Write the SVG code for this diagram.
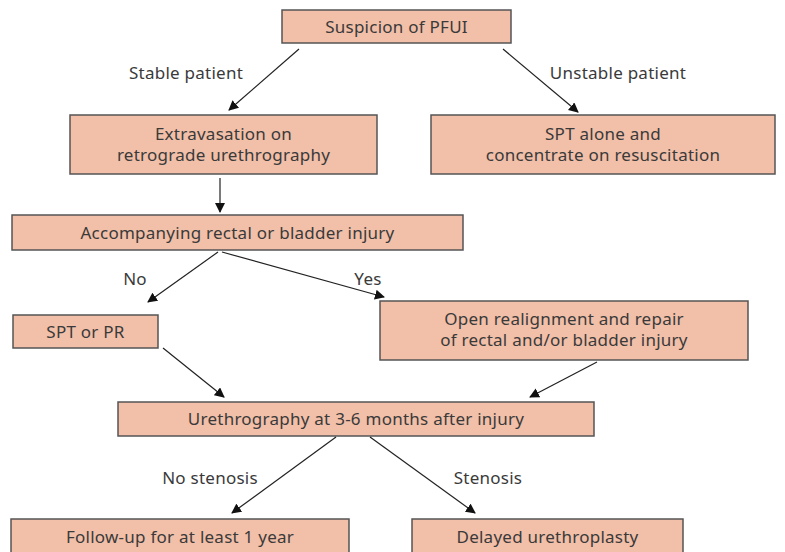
<svg xmlns="http://www.w3.org/2000/svg" width="785" height="552" viewBox="0 0 785 552">
<style>
.box{fill:#F2BFA8;stroke:#555;stroke-width:1.5}
.t{font-family:"Noto Sans","Open Sans",sans-serif;font-size:17px;letter-spacing:0.25px;fill:#3a3a3a;text-anchor:middle}
.e{stroke:#222;stroke-width:1.2;fill:none;marker-end:url(#ah)}
</style>
<defs>
<marker id="ah" viewBox="0 0 10 10" refX="9" refY="5" markerWidth="10" markerHeight="10" markerUnits="userSpaceOnUse" orient="auto"><path d="M0,0 L10,5 L0,10 z" fill="#111"/></marker>
</defs>
<rect width="785" height="552" fill="#fff"/>
<g id="n1"><rect class="box" x="282" y="10" width="229" height="33"/><text class="t" x="396.5" y="32.5">Suspicion of PFUI</text></g>
<g id="n2"><rect class="box" x="70" y="115" width="307" height="59"/><text class="t" x="223.5" y="140">Extravasation on</text><text class="t" x="223.5" y="161">retrograde urethrography</text></g>
<g id="n3"><rect class="box" x="431" y="115" width="344" height="59"/><text class="t" x="603" y="140">SPT alone and</text><text class="t" x="603" y="161">concentrate on resuscitation</text></g>
<g id="n4"><rect class="box" x="12" y="215" width="451" height="35"/><text class="t" x="237.5" y="238.5">Accompanying rectal or bladder injury</text></g>
<g id="n5"><rect class="box" x="13" y="315" width="145" height="33"/><text class="t" x="85.5" y="337.5">SPT or PR</text></g>
<g id="n6"><rect class="box" x="380" y="301" width="368" height="59"/><text class="t" x="564" y="325">Open realignment and repair</text><text class="t" x="564" y="346">of rectal and/or bladder injury</text></g>
<g id="n7"><rect class="box" x="118" y="402" width="476" height="34"/><text class="t" x="356" y="425">Urethrography at 3-6 months after injury</text></g>
<g id="n8"><rect class="box" x="11" y="519" width="338" height="40"/><text class="t" x="180" y="543">Follow-up for at least 1 year</text></g>
<g id="n9"><rect class="box" x="412" y="519" width="271" height="40"/><text class="t" x="547.5" y="543">Delayed urethroplasty</text></g>
<g id="edges">
<line class="e" x1="299" y1="49" x2="229" y2="110"/>
<line class="e" x1="503" y1="49" x2="578" y2="112"/>
<line class="e" x1="220" y1="178" x2="220" y2="212"/>
<line class="e" x1="218" y1="252" x2="148" y2="302"/>
<line class="e" x1="222" y1="252" x2="384" y2="297"/>
<line class="e" x1="163" y1="348" x2="224" y2="397"/>
<line class="e" x1="597" y1="362" x2="530" y2="397"/>
<line class="e" x1="336" y1="437" x2="232" y2="513"/>
<line class="e" x1="370" y1="437" x2="475" y2="513"/>
</g>
<g id="labels">
<text class="t" x="186" y="79">Stable patient</text>
<text class="t" x="618" y="79">Unstable patient</text>
<text class="t" x="135" y="285">No</text>
<text class="t" x="368" y="285">Yes</text>
<text class="t" x="210" y="484">No stenosis</text>
<text class="t" x="488" y="484">Stenosis</text>
</g>
</svg>
